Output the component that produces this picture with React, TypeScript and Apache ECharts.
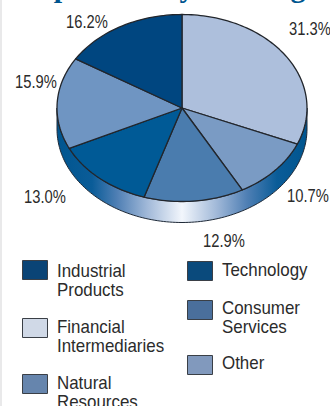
import React, { useEffect, useRef } from "react";
import * as echarts from "echarts";

const categories = ["Financial Intermediaries", "Other", "Consumer Services", "Technology", "Natural Resources", "Industrial Products"];
const values = [31.3, 10.7, 12.9, 13.0, 15.9, 16.2];
const sliceColors = ["#adbfdc", "#7a9bc4", "#4a7cae", "#005a96", "#6f95c2", "#004680"];
const labelTexts = ["31.3%", "10.7%", "12.9%", "13.0%", "15.9%", "16.2%"];
const labelPositions = [[310, 28], [308, 195], [224, 240], [45, 196], [36, 81], [87, 21]];
const legendRows = [
  { lines: ["Industrial", "Products"], x: 22, y: 260, color: "#0a4476", textY: 271 },
  { lines: ["Financial", "Intermediaries"], x: 22, y: 318, color: "#d0d9e7", textY: 327 },
  { lines: ["Natural", "Resources"], x: 22, y: 374, color: "#6685ad", textY: 383 },
  { lines: ["Technology"], x: 187, y: 261, color: "#0a4a7c", textY: 270 },
  { lines: ["Consumer", "Services"], x: 187, y: 300, color: "#4a6f9c", textY: 308 },
  { lines: ["Other"], x: 187, y: 355, color: "#8199bd", textY: 363 },
];
const titleText = "Composition by Holding";
const FONT = '"Liberation Sans", Arial, sans-serif';

export default function App() {
  const ref = useRef<HTMLDivElement>(null);
  useEffect(() => {
    document.body.style.margin = "0";
    const chart = echarts.init(ref.current!, null, { renderer: "svg" });
    const cx = 182, cy = 108, rx = 125, ry = 93.5, depth = 21;
    const total = values.reduce((a, b) => a + b, 0);
    const point = (a: number, dy = 0) => [cx + rx * Math.sin(a), cy - ry * Math.cos(a) + dy];
    const arcPts = (a0: number, a1: number, dy = 0) => {
      const n = Math.max(2, Math.ceil(Math.abs(a1 - a0) * 40));
      const out: number[][] = [];
      for (let i = 0; i <= n; i++) out.push(point(a0 + ((a1 - a0) * i) / n, dy));
      return out;
    };
    const rimPts = [...arcPts(Math.PI / 2, (3 * Math.PI) / 2), ...arcPts((3 * Math.PI) / 2, Math.PI / 2, depth)];
    const rim = {
      type: "custom",
      coordinateSystem: "none",
      silent: true,
      z: 1,
      data: [0],
      renderItem: () => ({
        type: "polygon",
        shape: { points: rimPts },
        style: {
          stroke: "#1f2a38",
          lineWidth: 1,
          fill: new echarts.graphic.LinearGradient(0, 0, 1, 0, [
            { offset: 0, color: "#00558f" },
            { offset: 0.14, color: "#0a5c98" },
            { offset: 0.24, color: "#4f7fb4" },
            { offset: 0.36, color: "#a0b8d8" },
            { offset: 0.5, color: "#f2f6fc" },
            { offset: 0.64, color: "#a0b8d8" },
            { offset: 0.76, color: "#4f7fb4" },
            { offset: 0.88, color: "#0a5c98" },
            { offset: 1, color: "#00558f" },
          ]),
        },
      }),
    };
    const slices = {
      type: "custom",
      coordinateSystem: "none",
      silent: true,
      z: 2,
      data: values.map((v, i) => ({ value: v, name: categories[i] })),
      renderItem: (params: any) => {
        const i = params.dataIndex;
        const before = values.slice(0, i).reduce((a, b) => a + b, 0);
        const a0 = (before / total) * Math.PI * 2;
        const a1 = ((before + values[i]) / total) * Math.PI * 2;
        return {
          type: "polygon",
          shape: { points: [[cx, cy], ...arcPts(a0, a1)] },
          style: { fill: sliceColors[i], stroke: "#22262c", lineWidth: 1.3, lineJoin: "round" },
        };
      },
    };
    const graphics: any[] = [
      { type: "rect", shape: { x: 0, y: 0, width: 2, height: 406 }, style: { fill: "#e9e9ea" } },
      { type: "text", x: -8, y: -29, style: { text: titleText, font: 'bold 30px "Liberation Serif", serif', fill: "#00558f" } },
    ];
    labelTexts.forEach((t, i) => {
      graphics.push({
        type: "text",
        x: labelPositions[i][0],
        y: labelPositions[i][1],
        scaleX: 0.82,
        style: { text: t, font: `18px ${FONT}`, fill: "#2b2b2b", textAlign: "center", textVerticalAlign: "middle" },
      });
    });
    legendRows.forEach((r) => {
      graphics.push({
        type: "rect",
        shape: { x: r.x + 0.5, y: r.y + 0.5, width: 25, height: 19 },
        style: { fill: r.color, stroke: "#3a3f46", lineWidth: 1 },
      });
      r.lines.forEach((line, k) => {
        graphics.push({
          type: "text",
          x: r.x + 35,
          y: r.textY + k * 18.5,
          scaleX: 0.94,
          style: { text: line, font: `18px ${FONT}`, fill: "#2b2b2b", textVerticalAlign: "middle" },
        });
      });
    });
    chart.setOption({
      animation: false,
      backgroundColor: "#ffffff",
      series: [rim, slices],
      graphic: graphics,
    });
    return () => chart.dispose();
  }, []);
  return <div ref={ref} style={{ width: 330, height: 406 }} />;
}
